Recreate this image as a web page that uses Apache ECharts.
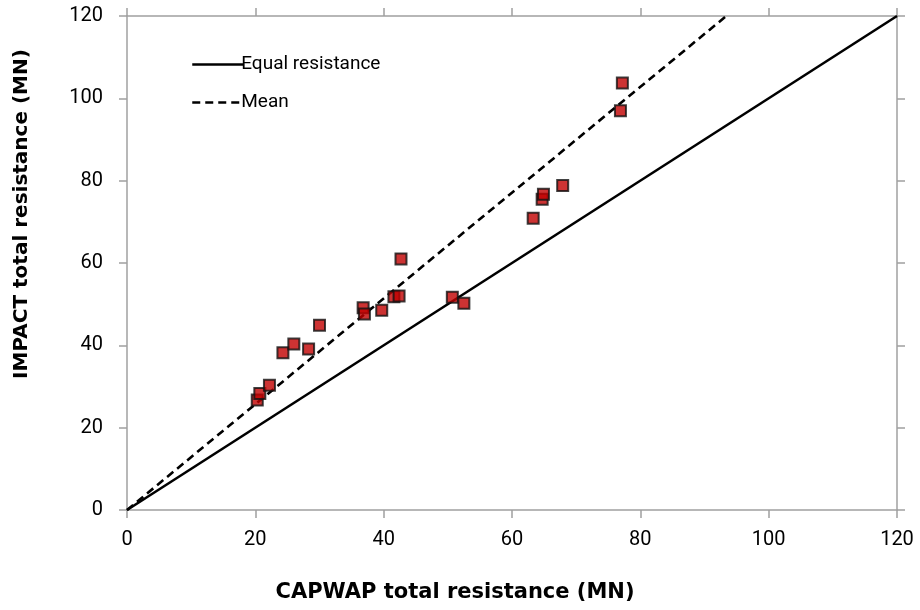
<!DOCTYPE html>
<html>
<head>
<meta charset="utf-8">
<script src="https://cdn.jsdelivr.net/npm/echarts@6/dist/echarts.min.js"></script>
<style>html,body{margin:0;padding:0;background:#fff}#c{width:920px;height:610px}</style>
</head>
<body>
<div id="c"></div>
<script>
const capwap = [20.3, 20.7, 22.2, 24.3, 26.0, 28.3, 30.0, 36.8, 37.0, 39.7, 41.6, 42.4, 42.7, 50.7, 52.5, 63.3, 64.7, 64.9, 67.9, 76.9, 77.2];
const impact = [26.7, 28.3, 30.3, 38.2, 40.3, 39.1, 44.9, 49.1, 47.6, 48.5, 51.8, 52.0, 61.0, 51.7, 50.2, 70.9, 75.5, 76.7, 78.8, 97.0, 103.7];
const equalLine = [[0, 0], [120, 120]];
const meanLine = [[0, 0], [93.4, 120]];
const xTitle = 'CAPWAP total resistance (MN)';
const yTitle = 'IMPACT total resistance (MN)';

const FONT = 'Roboto';
const TITLE_FONT = 'DejaVu Sans';
const axisGrey = '#a0a0a0';
const chart = echarts.init(document.getElementById('c'), null, {renderer: 'canvas'});
const points = capwap.map((x, i) => [x, impact[i]]);
const baseAxis = {
  min: 0, max: 120, interval: 20,
  axisLine: {show: true, onZero: false, lineStyle: {color: axisGrey, width: 1.5}},
  axisTick: {show: true, inside: false, length: 8, lineStyle: {color: axisGrey, width: 1.5}},
  splitLine: {show: false}
};
chart.setOption({
  animation: false,
  backgroundColor: '#fff',
  grid: {left: 127, right: 23, top: 16, bottom: 100, containLabel: false},
  legend: {
    orient: 'vertical', left: 186, top: 50, itemWidth: 51, itemHeight: 18, itemGap: 19,
    itemStyle: {color: 'rgba(0,0,0,0)', borderWidth: 0, opacity: 0},
    lineStyle: {width: 2.5, color: '#000'},
    textStyle: {fontFamily: FONT, fontSize: 19, color: '#000', padding: [0, 0, 0, -7]},
    data: [{name: 'Equal resistance'}, {name: 'Mean'}]
  },
  xAxis: [
    Object.assign({}, baseAxis, {
      type: 'value', position: 'bottom',
      axisLabel: {fontFamily: FONT, fontSize: 20, color: '#000', margin: 20},
      name: xTitle, nameLocation: 'middle', nameGap: 72,
      nameTextStyle: {fontFamily: TITLE_FONT, fontSize: 21, fontWeight: 'bold', color: '#000', padding: [0, 114, 0, 0]}
    }),
    Object.assign({}, baseAxis, {type: 'value', position: 'top', axisLabel: {show: false}})
  ],
  yAxis: [
    Object.assign({}, baseAxis, {
      type: 'value', position: 'left',
      axisLabel: {fontFamily: FONT, fontSize: 20, color: '#000', margin: 24},
      name: yTitle, nameLocation: 'middle', nameGap: 95,
      nameTextStyle: {fontFamily: TITLE_FONT, fontSize: 20, fontWeight: 'bold', color: '#000', padding: [0, 0, 0, 98]}
    }),
    Object.assign({}, baseAxis, {type: 'value', position: 'right', axisLabel: {show: false}})
  ],
  series: [
    {
      name: 'Equal resistance', type: 'line', data: equalLine, symbol: 'none',
      lineStyle: {color: '#000', width: 2.6, type: 'solid'}, itemStyle: {color: '#000'}, z: 2
    },
    {
      name: 'Mean', type: 'line', data: meanLine, symbol: 'none',
      lineStyle: {color: '#000', width: 2.6, type: [8, 5]}, itemStyle: {color: '#000'}, z: 2
    },
    {
      name: 'Data', type: 'scatter', data: points, symbol: 'rect', symbolSize: 11,
      itemStyle: {color: '#c00000', borderColor: '#111', borderWidth: 2}, z: 3
    }
  ]
});
</script>
</body>
</html>
